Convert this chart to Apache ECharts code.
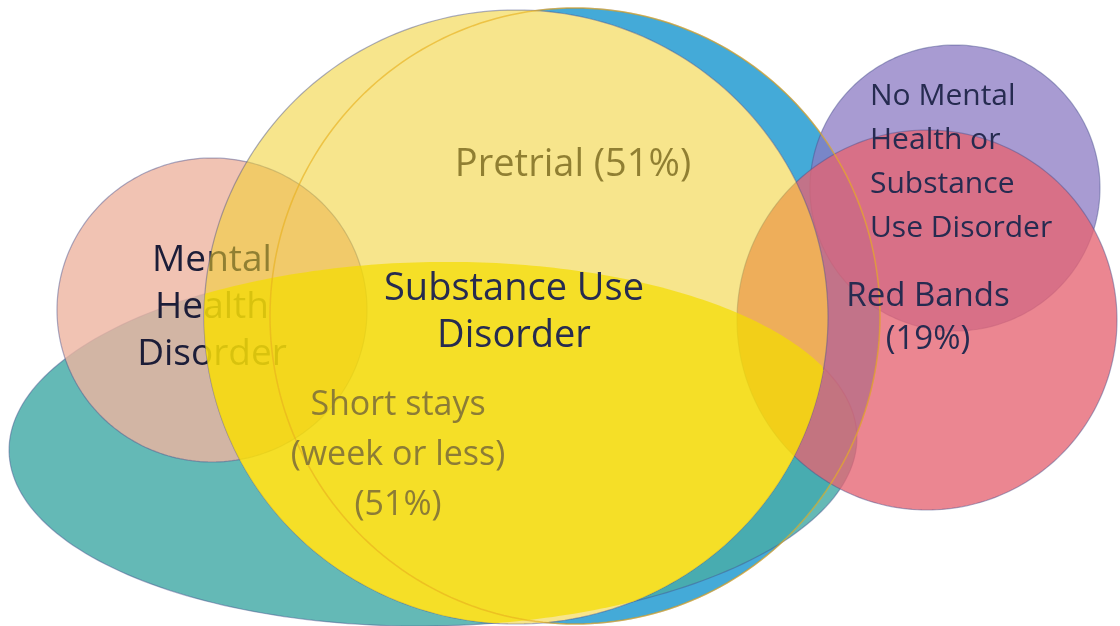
<!DOCTYPE html>
<html>
<head>
<meta charset="utf-8">
<script src="https://cdn.jsdelivr.net/npm/echarts@6/dist/echarts.min.js"></script>
<style>
  html, body { margin: 0; padding: 0; background: #fff; }
  #main { width: 1120px; height: 626px; }
</style>
</head>
<body>
<div id="main"></div>
<script>
// ellipses, in picture units (x to the right, y downward)
const ellipseName = ['Jail', 'Short stays', 'Pretrial', 'Mental Health Disorder', 'Red Bands', 'No MH or SUD'];
const centerX = [575, 433, 516, 212, 927, 955];
const centerY = [316, 444, 317, 310, 320, 188];
const radiusX = [305, 424, 312, 155, 190, 145];
const radiusY = [308, 182, 307, 152, 190, 143];
const tiltDeg = [0, -1, 0, 0, 0, 0];

// labels
const labelText = [
  'Pretrial (51%)',
  'Substance Use\nDisorder',
  'Mental\nHealth\nDisorder',
  'Short stays\n(week or less)\n(51%)',
  'No Mental\nHealth or\nSubstance\nUse Disorder',
  'Red Bands\n(19%)'
];
const labelX = [573, 514, 212, 398, 870, 928];
const labelY = [165, 313, 307, 455, 162, 318];

// label look
const labelSize = [38, 38, 37, 34, 30, 33];
const labelLine = [40, 47, 47, 50, 44, 43];
const labelAlign = ['center', 'center', 'center', 'center', 'left', 'center'];
const navy = '#262b50';
const darkInk = '#1c1d38';   // seen through the yellow it turns olive
const olive = '#8c7c36';
const edge = 'rgba(70,80,140,0.45)';

// drawing order, bottom to top
const layers = [
  { kind: 'fill', shape: 0, fill: '#44aad8', stroke: edge },
  { kind: 'fill', shape: 1, fill: 'rgba(73,173,169,0.85)', stroke: edge },
  { kind: 'fill', shape: 2, fill: '#ffffff', stroke: null },
  { kind: 'fill', shape: 5, fill: 'rgba(139,122,195,0.75)', stroke: edge },
  { kind: 'fill', shape: 4, fill: 'rgba(230,100,114,0.78)', stroke: edge },
  { kind: 'fill', shape: 3, fill: 'rgba(238,180,160,0.8)', stroke: edge },
  { kind: 'text', label: 2, color: darkInk },
  { kind: 'text', label: 0, color: darkInk },
  { kind: 'fill', shape: 2, fill: 'rgba(241,208,46,0.55)', stroke: edge },
  { kind: 'overlap', a: 1, b: 2, fill: 'rgba(244,220,0,0.72)' },
  { kind: 'line', shape: 0, stroke: 'rgba(232,176,30,0.65)' },
  { kind: 'text', label: 3, color: olive },
  { kind: 'text', label: 1, color: navy },
  { kind: 'text', label: 4, color: navy },
  { kind: 'text', label: 5, color: navy }
];

function pointOn(i, t) {
  const a = tiltDeg[i] * Math.PI / 180;
  const ex = radiusX[i] * Math.cos(t);
  const ey = radiusY[i] * Math.sin(t);
  return [
    centerX[i] + ex * Math.cos(a) - ey * Math.sin(a),
    centerY[i] + ex * Math.sin(a) + ey * Math.cos(a)
  ];
}

function isInside(i, p) {
  const a = tiltDeg[i] * Math.PI / 180;
  const dx = p[0] - centerX[i];
  const dy = p[1] - centerY[i];
  const u = dx * Math.cos(a) + dy * Math.sin(a);
  const v = -dx * Math.sin(a) + dy * Math.cos(a);
  return (u / radiusX[i]) ** 2 + (v / radiusY[i]) ** 2 <= 1;
}

function outline(i, n) {
  const pts = [];
  for (let k = 0; k < n; k++) pts.push(pointOn(i, (2 * Math.PI * k) / n));
  return pts;
}

// both shapes are convex, so their common part is the convex set of boundary points inside the other one
function overlap(i, j) {
  const pts = outline(i, 360).filter(p => isInside(j, p))
    .concat(outline(j, 360).filter(p => isInside(i, p)));
  const mx = pts.reduce((s, p) => s + p[0], 0) / pts.length;
  const my = pts.reduce((s, p) => s + p[1], 0) / pts.length;
  pts.sort((p, q) => Math.atan2(p[1] - my, p[0] - mx) - Math.atan2(q[1] - my, q[0] - mx));
  return pts;
}

function renderItem(params, api) {
  const layer = layers[params.dataIndex];
  const z2 = params.dataIndex;
  if (layer.kind === 'text') {
    const i = layer.label;
    const pos = api.coord([labelX[i], labelY[i]]);
    return {
      type: 'text',
      x: pos[0],
      y: pos[1],
      z2: z2,
      style: {
        text: labelText[i],
        fill: layer.color,
        font: labelSize[i] + 'px "Open Sans"',
        align: labelAlign[i],
        verticalAlign: 'middle',
        lineHeight: labelLine[i]
      }
    };
  }
  let pts;
  if (layer.kind === 'overlap') pts = overlap(layer.a, layer.b);
  else pts = outline(layer.shape, 240);
  const screen = pts.map(p => api.coord(p));
  if (layer.kind === 'line') {
    return {
      type: 'polygon',
      z2: z2,
      shape: { points: screen },
      style: { fill: null, stroke: layer.stroke, lineWidth: 1.5 }
    };
  }
  return {
    type: 'polygon',
    z2: z2,
    shape: { points: screen },
    style: {
      fill: layer.fill,
      stroke: layer.stroke || null,
      lineWidth: layer.stroke ? 1.2 : 0
    }
  };
}

const chart = echarts.init(document.getElementById('main'), null, { renderer: 'canvas' });
chart.setOption({
  animation: false,
  backgroundColor: '#ffffff',
  grid: { left: 0, right: 0, top: 0, bottom: 0 },
  xAxis: { type: 'value', min: 0, max: 1120, show: false },
  yAxis: { type: 'value', min: 0, max: 626, inverse: true, show: false },
  series: [{
    type: 'custom',
    name: 'venn',
    renderItem: renderItem,
    clip: false,
    silent: true,
    data: layers.map((l, i) => [i])
  }]
});
</script>
</body>
</html>
